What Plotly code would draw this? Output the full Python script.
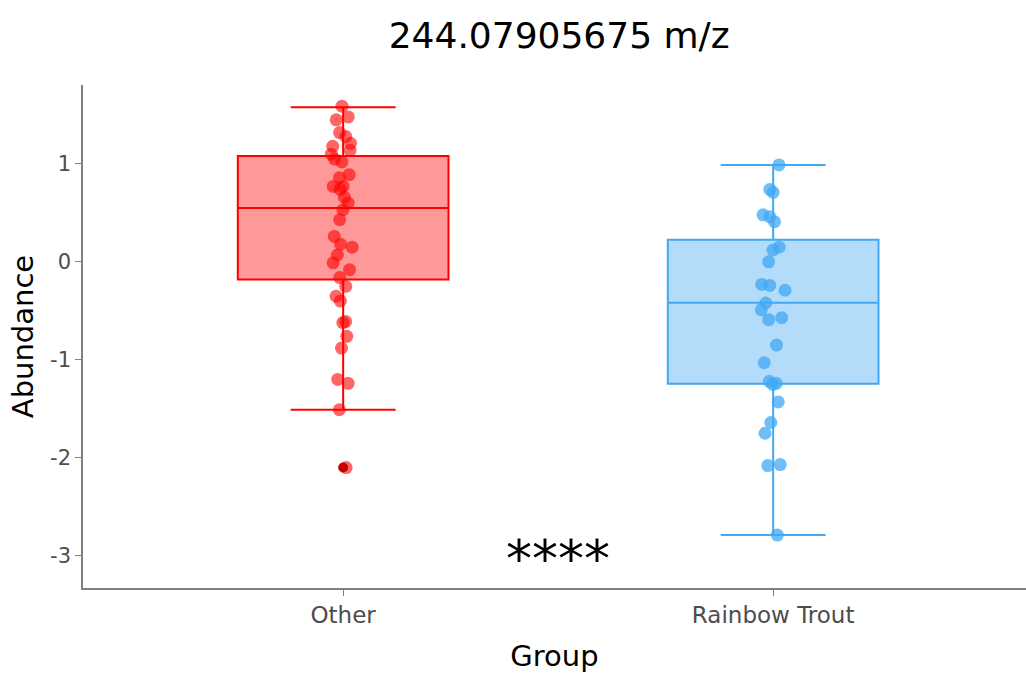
import plotly.graph_objects as go

# Groups and per-sample abundance values
groups = ["Other", "Rainbow Trout"]

other_vals = [1.59, 1.48, 1.45, 1.32, 1.28, 1.21, 1.18, 1.14, 1.10, 1.05, 1.02,
              0.89, 0.86, 0.77, 0.77, 0.74, 0.66, 0.60, 0.53, 0.43, 0.26, 0.18,
              0.15, 0.07, -0.01, -0.08, -0.16, -0.25, -0.35, -0.40, -0.61, -0.62,
              -0.76, -0.88, -1.20, -1.24, -1.51, -2.10]
trout_vals = [0.99, 0.74, 0.71, 0.48, 0.46, 0.41, 0.15, 0.12, 0.00, -0.23, -0.24,
              -0.29, -0.42, -0.49, -0.57, -0.59, -0.85, -1.03, -1.22, -1.24,
              -1.25, -1.43, -1.64, -1.75, -2.07, -2.08, -2.79]

# Box statistics per group
q1 = [-0.18, -1.245]
median = [0.55, -0.418]
q3 = [1.08, 0.225]
lowerfence = [-1.51, -2.79]
upperfence = [1.58, 0.99]
outliers_other = [-2.10]

y_ticks = [-3, -2, -1, 0, 1]
y_tick_text = ["-3", "-2", "-1", "0", "1"]

line_colors = ["#FF0000", "#40A8F4"]
fill_colors = ["rgba(255,0,0,0.4)", "rgba(64,168,244,0.4)"]
point_colors = ["rgba(255,0,0,0.6)", "rgba(64,168,244,0.75)"]
samples = [other_vals, trout_vals]

font_family = "DejaVu Sans"
box_w = 0.49
cap_half = 0.122

fig = go.Figure()

for i, g in enumerate(groups):
    fig.add_trace(go.Box(
        x=[g], q1=[q1[i]], median=[median[i]], q3=[q3[i]],
        lowerfence=[lowerfence[i]], upperfence=[upperfence[i]],
        boxpoints=False, width=box_w, whiskerwidth=0,
        line=dict(color=line_colors[i], width=2),
        fillcolor=fill_colors[i], showlegend=False,
    ))

# jittered sample points
for i, g in enumerate(groups):
    fig.add_trace(go.Box(
        x=[g] * len(samples[i]), y=samples[i],
        boxpoints="all", jitter=0.13, pointpos=0, width=box_w,
        fillcolor="rgba(0,0,0,0)", line=dict(width=0, color="rgba(0,0,0,0)"),
        marker=dict(color=point_colors[i], size=13, line=dict(width=0)),
        showlegend=False, hoverinfo="y",
    ))

# outlier of the first group
fig.add_trace(go.Scatter(
    x=[groups[0]] * len(outliers_other), y=outliers_other, mode="markers",
    marker=dict(color="#C80000", size=10), showlegend=False,
))

# whisker caps
for i in range(len(groups)):
    for yv in (lowerfence[i], upperfence[i]):
        fig.add_shape(type="line", xref="x", yref="y",
                      x0=i - cap_half, x1=i + cap_half, y0=yv, y1=yv,
                      line=dict(color=line_colors[i], width=2))

fig.add_annotation(x=0.5, y=-3.03, xref="x", yref="y", text="****",
                   showarrow=False, font=dict(size=52, color="black", family=font_family))

fig.update_layout(
    width=1026, height=673,
    margin=dict(l=83, r=0, t=85, b=85),
    paper_bgcolor="white", plot_bgcolor="white",
    boxmode="overlay",
    title=dict(text="244.07905675 m/z", x=0.545, xanchor="center", y=0.948, yanchor="middle",
               font=dict(size=36, color="black", family=font_family)),
    font=dict(family=font_family),
    xaxis=dict(
        title=dict(text="Group", font=dict(size=29, color="black"), standoff=19),
        range=[-0.605, 1.588], showline=True, linecolor="#7f7f7f", linewidth=1.5,
        ticks="outside", ticklen=6, tickcolor="#7f7f7f",
        tickfont=dict(size=23, color="#4d4d4d"), showgrid=False, zeroline=False,
    ),
    yaxis=dict(
        title=dict(text="Abundance", font=dict(size=29, color="black"), standoff=8),
        range=[-3.33, 1.806], showline=True, linecolor="#7f7f7f", linewidth=1.5,
        ticks="outside", ticklen=6, tickcolor="#7f7f7f",
        tickvals=y_ticks, ticktext=y_tick_text,
        tickfont=dict(size=21, color="#4d4d4d"), showgrid=False, zeroline=False,
    ),
)

fig.write_html("out.html")
